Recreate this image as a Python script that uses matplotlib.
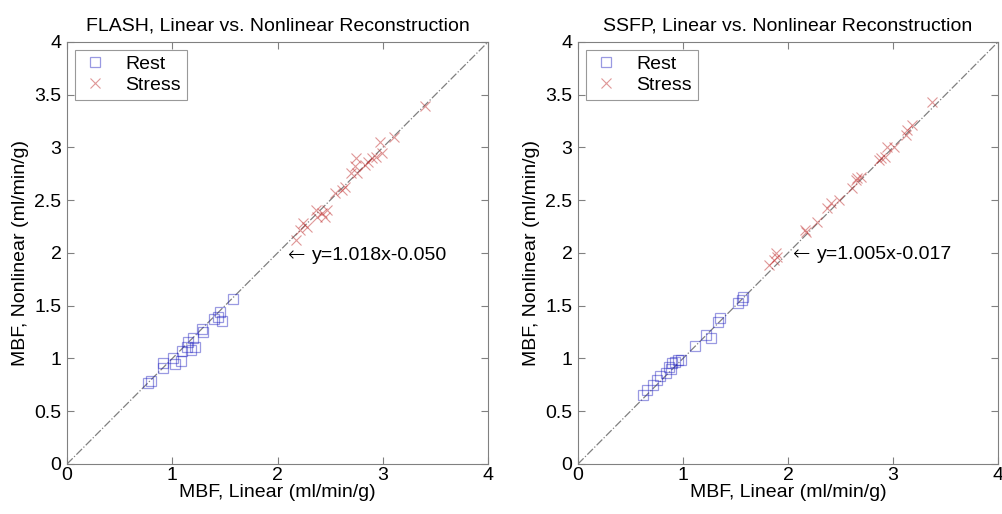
import numpy as np
import matplotlib
matplotlib.use('Agg')
import matplotlib.pyplot as plt

plt.rcParams['font.family'] = ['Liberation Sans', 'DejaVu Sans']

# FLASH panel
flash_rest_x = [0.80, 0.91, 0.91, 1.01, 1.08, 1.03, 1.09, 1.14, 1.15, 1.20, 1.22, 1.18,
                1.28, 1.29, 1.40, 1.45, 1.47, 1.58, 1.43, 0.77]
flash_rest_y = [0.79, 0.91, 0.96, 1.00, 0.98, 0.95, 1.07, 1.11, 1.16, 1.19, 1.11, 1.08,
                1.28, 1.25, 1.37, 1.44, 1.36, 1.56, 1.39, 0.77]
flash_stress_x = [3.40, 3.11, 2.97, 2.99, 2.94, 2.90, 2.86, 2.83, 2.75, 2.74, 2.76, 2.70,
                  2.64, 2.61, 2.55, 2.47, 2.42, 2.37, 2.45, 2.38, 2.24, 2.28, 2.21, 2.18]
flash_stress_y = [3.39, 3.10, 3.05, 2.95, 2.91, 2.90, 2.86, 2.83, 2.90, 2.82, 2.76, 2.76,
                  2.63, 2.60, 2.57, 2.41, 2.38, 2.41, 2.34, 2.34, 2.28, 2.25, 2.22, 2.12]
flash_fit = "y=1.018x-0.050"

# SSFP panel
ssfp_rest_x = [0.62, 0.66, 0.71, 0.75, 0.78, 0.84, 0.89, 0.87, 0.92, 0.95, 0.98, 0.90,
               1.11, 1.22, 1.27, 1.33, 1.35, 1.52, 1.57, 1.56]
ssfp_rest_y = [0.65, 0.70, 0.75, 0.80, 0.83, 0.86, 0.90, 0.92, 0.97, 0.99, 0.99, 0.96,
               1.12, 1.22, 1.19, 1.35, 1.38, 1.53, 1.58, 1.55]
ssfp_stress_x = [3.37, 3.18, 3.13, 3.12, 3.01, 2.94, 2.92, 2.89, 2.87, 2.70, 2.66, 2.65,
                 2.61, 2.49, 2.41, 2.37, 2.28, 2.16, 2.17, 1.90, 1.87, 1.89, 1.82]
ssfp_stress_y = [3.43, 3.21, 3.17, 3.12, 3.00, 3.00, 2.91, 2.90, 2.88, 2.72, 2.71, 2.69,
                 2.62, 2.50, 2.47, 2.43, 2.29, 2.22, 2.20, 1.96, 1.93, 2.00, 1.89]
ssfp_fit = "y=1.005x-0.017"

titles = ["FLASH, Linear vs. Nonlinear Reconstruction",
          "SSFP, Linear vs. Nonlinear Reconstruction"]
fit_pos = [(2.10, 1.98), (2.05, 1.99)]
ticks = [0, 0.5, 1, 1.5, 2, 2.5, 3, 3.5, 4]
tick_labels = ['0', '0.5', '1', '1.5', '2', '2.5', '3', '3.5', '4']

fig = plt.figure(figsize=(10.02, 5.14), dpi=100)
ax1 = fig.add_axes([0.0669, 0.0973, 0.4201, 0.8210])
ax2 = fig.add_axes([0.5768, 0.0973, 0.4192, 0.8210])

panels = [(ax1, flash_rest_x, flash_rest_y, flash_stress_x, flash_stress_y, flash_fit),
          (ax2, ssfp_rest_x, ssfp_rest_y, ssfp_stress_x, ssfp_stress_y, ssfp_fit)]

for i, (ax, rx, ry, sx, sy, fit) in enumerate(panels):
    ax.plot([0, 4], [0, 4], color='#808080', ls='-.', lw=0.9, zorder=1)
    ax.plot(rx, ry, ls='none', marker='s', ms=7.5, mfc='none', mec='#2020c0',
            mew=0.9, alpha=0.45, label='Rest', zorder=2)
    ax.plot(sx, sy, ls='none', marker='x', ms=6.5, mec='#c03030',
            mew=0.8, alpha=0.5, label='Stress', zorder=2)
    # arrow drawn in DejaVu (wider glyph), then the fit equation
    ax.text(fit_pos[i][0], fit_pos[i][1], "\u2190", fontsize=15, va='center',
            ha='left', family='DejaVu Sans', fontweight='light')
    ax.text(fit_pos[i][0] + 0.23, fit_pos[i][1], fit, fontsize=14, va='center', ha='left')
    ax.set_xlim(0, 4)
    ax.set_ylim(0, 4)
    ax.set_xticks([0, 1, 2, 3, 4])
    ax.set_xticklabels(['0', '1', '2', '3', '4'])
    ax.set_yticks(ticks)
    ax.set_yticklabels(tick_labels)
    ax.tick_params(direction='in', top=True, right=True, labelsize=14,
                   color='#808080', length=5)
    ax.tick_params(axis='x', pad=2)
    ax.tick_params(axis='y', pad=4)
    for s in ax.spines.values():
        s.set_color('#808080')
    ax.set_xlabel('MBF, Linear (ml/min/g)', fontsize=14, labelpad=0)
    ax.set_ylabel('MBF, Nonlinear (ml/min/g)', fontsize=14, labelpad=4)
    ax.set_title(titles[i], fontsize=14, pad=8)
    leg = ax.legend(loc='upper left', fontsize=14, fancybox=False, handlelength=1.5,
                    borderaxespad=0.4, labelspacing=0.15, borderpad=0.3)
    leg.get_frame().set_edgecolor('#808080')
    leg.get_frame().set_linewidth(0.8)

fig.savefig('out.png', dpi=100)
